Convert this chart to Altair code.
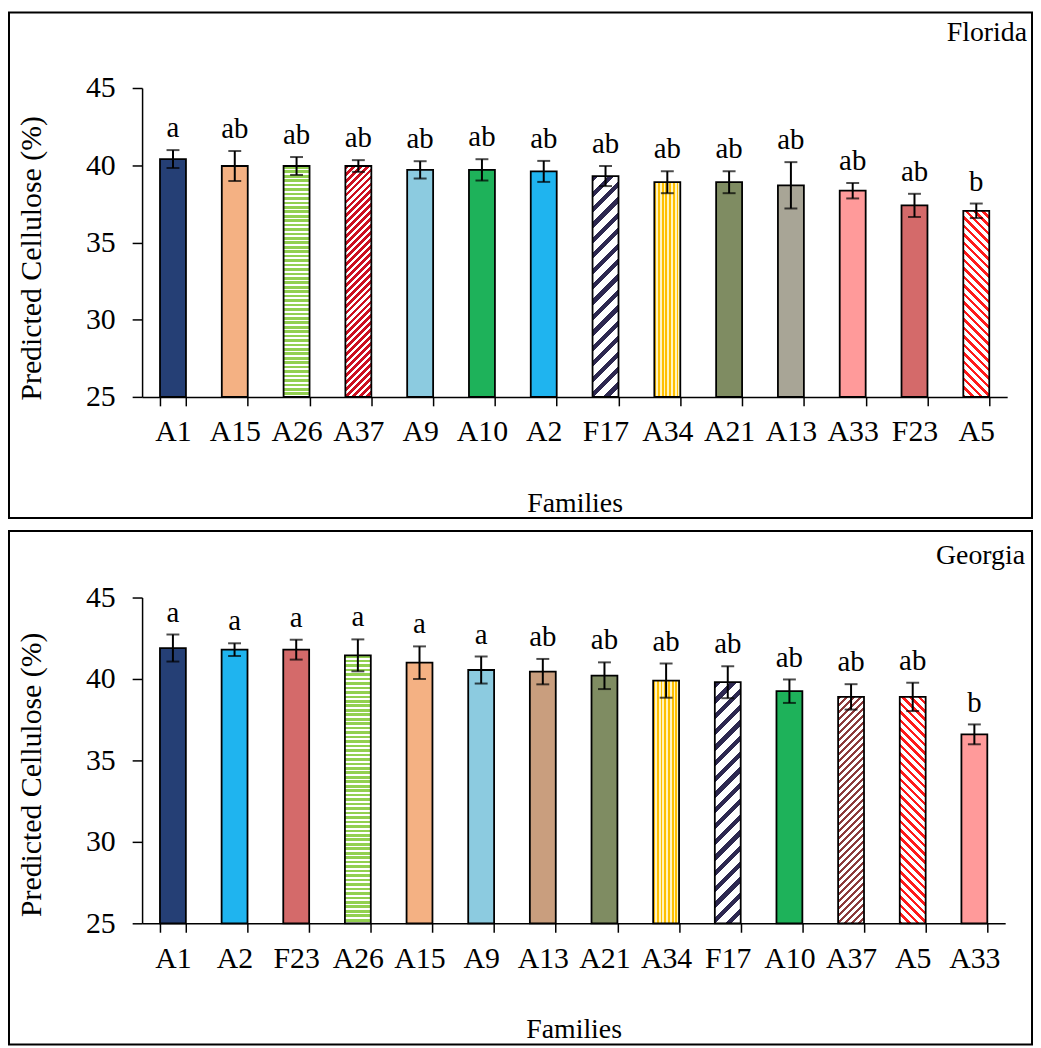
import math
import altair as alt
import pandas as pd

FONT = "Liberation Serif"

# ---------------- data ----------------
regions = ["Florida", "Georgia"]

fl_families = ["A1", "A15", "A26", "A37", "A9", "A10", "A2", "F17", "A34", "A21", "A13", "A33", "F23", "A5"]
fl_means = [40.4, 39.95, 39.95, 39.95, 39.7, 39.7, 39.6, 39.3, 38.9, 38.9, 38.7, 38.35, 37.4, 37.05]
fl_errors = [0.58, 0.97, 0.58, 0.38, 0.56, 0.69, 0.68, 0.65, 0.71, 0.71, 1.5, 0.5, 0.75, 0.47]
fl_letters = ["a", "ab", "ab", "ab", "ab", "ab", "ab", "ab", "ab", "ab", "ab", "ab", "ab", "b"]

ga_families = ["A1", "A2", "F23", "A26", "A15", "A9", "A13", "A21", "A34", "F17", "A10", "A37", "A5", "A33"]
ga_means = [41.9, 41.8, 41.8, 41.45, 41.0, 40.55, 40.45, 40.2, 39.9, 39.8, 39.25, 38.9, 38.9, 36.6]
ga_errors = [0.83, 0.39, 0.61, 0.98, 1.0, 0.83, 0.78, 0.82, 1.05, 0.98, 0.72, 0.78, 0.87, 0.61]
ga_letters = ["a", "a", "a", "a", "a", "a", "ab", "ab", "ab", "ab", "ab", "ab", "ab", "b"]

y_ticks = [25, 30, 35, 40, 45]

# ---------------- styles ----------------
fl_styles = {
    "A1": ("solid", "#253f75"),
    "A15": ("solid", "#f4b183"),
    "A26": ("hstripe", "#92d050", "#ffffff", 4.5, 0.6),
    "A37": ("up", "#cc1020", "#ffffff", 5.0, 0.55),
    "A9": ("solid", "#8ccbe0"),
    "A10": ("solid", "#1eb25a"),
    "A2": ("solid", "#1fb4ef"),
    "F17": ("up", "#2d2850", "#ffffff", 11.0, 0.4),
    "A34": ("vstripe", "#ffc000", "#fff4c0", 3.6, 0.5),
    "A21": ("solid", "#7f8c62"),
    "A13": ("solid", "#a8a596"),
    "A33": ("solid", "#ff9a9a"),
    "F23": ("solid", "#d46a6a"),
    "A5": ("down", "#ff1a1a", "#ffffff", 6.0, 0.42),
}
ga_styles = dict(fl_styles)
ga_styles["A13"] = ("solid", "#c99e7e")
ga_styles["A37"] = ("up", "#8b3a3a", "#ffffff", 5.0, 0.5)


def stripe_stops(c1, c2, n, duty):
    stops = []
    n = max(1, int(n))
    for k in range(n):
        a = k / n
        b = (k + duty) / n
        c = (k + 1) / n
        stops += [
            {"offset": round(a, 5), "color": c1},
            {"offset": round(b, 5), "color": c1},
            {"offset": round(b, 5), "color": c2},
            {"offset": round(c, 5), "color": c2},
        ]
    return stops


def make_fill(style, w, h):
    kind = style[0]
    if kind == "solid":
        return style[1]
    c1, c2, period, duty = style[1], style[2], style[3], style[4]
    if kind == "hstripe":
        n = round(h / period)
        return {"gradient": "linear", "x1": 0, "y1": 0, "x2": 0, "y2": 1,
                "stops": stripe_stops(c1, c2, n, duty)}
    if kind == "vstripe":
        n = round(w / period)
        return {"gradient": "linear", "x1": 0, "y1": 0, "x2": 1, "y2": 0,
                "stops": stripe_stops(c1, c2, n, duty)}
    s = (w + h) / (w * w + h * h)
    n = round((w + h) / (math.sqrt(2) * period))
    if kind == "up":
        return {"gradient": "linear", "x1": 0, "y1": 0, "x2": s * w, "y2": s * h,
                "stops": stripe_stops(c1, c2, n, duty)}
    return {"gradient": "linear", "x1": 0, "y1": 1, "x2": s * w, "y2": 1 - s * h,
            "stops": stripe_stops(c1, c2, n, duty)}


P_INNER = 0.58


def panel(region, families, means, errors, letters, styles, W, H, T, B, L, R, title_y, label_x, label_y):
    df = pd.DataFrame({"family": families, "mean": means, "err": errors, "letter": letters})
    df["lo"] = df["mean"] - df["err"]
    df["hi"] = df["mean"] + df["err"]

    xaxis = alt.Axis(title="Families", labelAngle=0, tickBand="extent", tickSize=9,
                     labelPadding=11, titlePadding=43, labelFontSize=30, titleFontSize=28)
    yaxis = alt.Axis(values=y_ticks, title="Predicted Cellulose  (%)", tickSize=10, labelPadding=17,
                     labelFontSize=30, titleFontSize=30,
                     titleX=-111, titleY=title_y, titleAngle=270, titleAlign="center",
                     titleBaseline="middle")
    xscale = alt.Scale(domain=families, paddingInner=P_INNER, paddingOuter=P_INNER / 2)
    yscale = alt.Scale(domain=[25, 45], zero=False, nice=False)

    def X():
        return alt.X("family:N", sort=families, scale=xscale, axis=xaxis)

    def Y(field):
        return alt.Y(f"{field}:Q", scale=yscale, axis=yaxis)

    base = alt.Chart(df)
    step = W / len(families)
    bw = step * (1 - P_INNER)

    bars = []
    for fam, m in zip(families, means):
        h = (m - 25) * H / 20.0
        fill = make_fill(styles[fam], bw, h)
        bars.append(
            base.transform_filter(alt.datum.family == fam)
            .mark_bar(fill=fill, stroke="black", strokeWidth=1.8)
            .encode(x=X(), y=Y("mean"), y2=alt.datum(25))
        )

    rule = base.mark_rule(color="black", strokeWidth=2).encode(x=X(), y=Y("lo"), y2="hi:Q")
    cap_hi = base.mark_tick(color="black", size=13, thickness=2).encode(x=X(), y=Y("hi"))
    cap_lo = base.mark_tick(color="black", size=13, thickness=2).encode(x=X(), y=Y("lo"))
    txt = base.mark_text(font=FONT, fontSize=29, color="black", baseline="alphabetic", dy=-13).encode(
        x=X(), y=Y("hi"), text="letter:N")

    one = alt.Chart(pd.DataFrame({"region": [region]}))
    box = one.mark_rect(fillOpacity=0, stroke="black", strokeWidth=2).encode(
        x=alt.value(-L), x2=alt.value(W + R), y=alt.value(-T), y2=alt.value(H + B))
    lab = one.mark_text(font=FONT, fontSize=28, color="black", align="right", baseline="alphabetic").encode(
        x=alt.value(label_x), y=alt.value(label_y), text="region:N")

    return alt.layer(box, *bars, rule, cap_hi, cap_lo, txt, lab).properties(width=W, height=H)


top = panel(regions[0], fl_families, fl_means, fl_errors, fl_letters, fl_styles,
            W=871, H=311, T=76, B=122, L=134, R=25, title_y=171, label_x=891, label_y=-47)
bot = panel(regions[1], ga_families, ga_means, ga_errors, ga_letters, ga_styles,
            W=869, H=328, T=67, B=122, L=134, R=27, title_y=178, label_x=889, label_y=-34)

chart = (
    alt.vconcat(top, bot, spacing=11)
    .properties(padding=0)
    .configure_view(stroke=None)
    .configure_axis(
        domainColor="black", domainWidth=1.5, tickColor="black", tickWidth=1.5,
        labelColor="black", labelFont=FONT, labelFontSize=30,
        titleFont=FONT, titleFontSize=28, titleFontWeight="normal", titleColor="black",
        grid=False,
    )
)

chart.save("out.html", embed_options={"renderer": "svg", "actions": False})
